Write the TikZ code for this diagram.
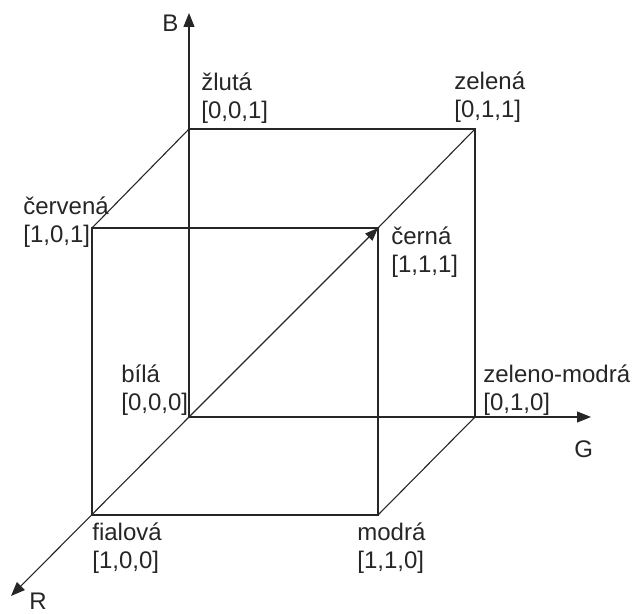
\documentclass[tikz,border=0pt]{standalone}
\usepackage{fontspec}
\setmainfont{Liberation Sans}
\usetikzlibrary{arrows.meta}
\begin{document}
\begin{tikzpicture}[x=0.5pt,y=-0.5pt,
  edge/.style={draw=black!85,line width=0.55pt},
  axis/.style={edge,-{Triangle[length=7pt,width=5.5pt]}},
  lbl/.style={anchor=base west,inner sep=0pt,text=black!85,font=\fontsize{12pt}{14pt}\selectfont}]
\useasboundingbox (0,0) rectangle (632,614);
% vertices
\coordinate (O) at (189,417);
\coordinate (Y) at (189,129);
\coordinate (Z) at (475,129);
\coordinate (ZM) at (475,417);
\coordinate (C) at (92,228);
\coordinate (K) at (378,228);
\coordinate (F) at (92,515);
\coordinate (M) at (378,515);
\coordinate (Bend) at (189,13);
\coordinate (Gend) at (591,417);
\coordinate (Rend) at (11,596);
% axes
\draw[axis] (O) -- (Bend);
\draw[axis] (O) -- (Gend);
\draw[axis] (O) -- (Rend);
% back face
\draw[edge] (Y) -- (Z) -- (ZM);
% front face
\draw[edge] (C) -- (K) -- (M) -- (F) -- cycle;
% connecting edges
\draw[edge] (Y) -- (C);
\draw[edge] (Z) -- (K);
\draw[edge] (ZM) -- (M);
% diagonal
\draw[edge,-{Triangle[length=6.5pt,width=5pt]}] (O) -- (K);
% labels
\node[lbl] (lB) at (162,32) {B};
\node[lbl] (lG) at (574,458) {G};
\node[lbl] (lR) at (29,609) {R};
\node[lbl] (lY) at (201,91) {\begin{tabular}[t]{@{}l@{}}žlutá\\{[0,0,1]}\end{tabular}};
\node[lbl] (lZ) at (454,90) {\begin{tabular}[t]{@{}l@{}}zelená\\{[0,1,1]}\end{tabular}};
\node[lbl] (lC) at (23,215) {\begin{tabular}[t]{@{}l@{}}červená\\{[1,0,1]}\end{tabular}};
\node[lbl] (lK) at (391,245) {\begin{tabular}[t]{@{}l@{}}černá\\{[1,1,1]}\end{tabular}};
\node[lbl] (lO) at (121,383) {\begin{tabular}[t]{@{}l@{}}bílá\\{[0,0,0]}\end{tabular}};
\node[lbl] (lZM) at (483,383) {\begin{tabular}[t]{@{}l@{}}zeleno-modrá\\{[0,1,0]}\end{tabular}};
\node[lbl] (lF) at (92,540) {\begin{tabular}[t]{@{}l@{}}fialová\\{[1,0,0]}\end{tabular}};
\node[lbl] (lM) at (357,540) {\begin{tabular}[t]{@{}l@{}}modrá\\{[1,1,0]}\end{tabular}};
\end{tikzpicture}
\end{document}
